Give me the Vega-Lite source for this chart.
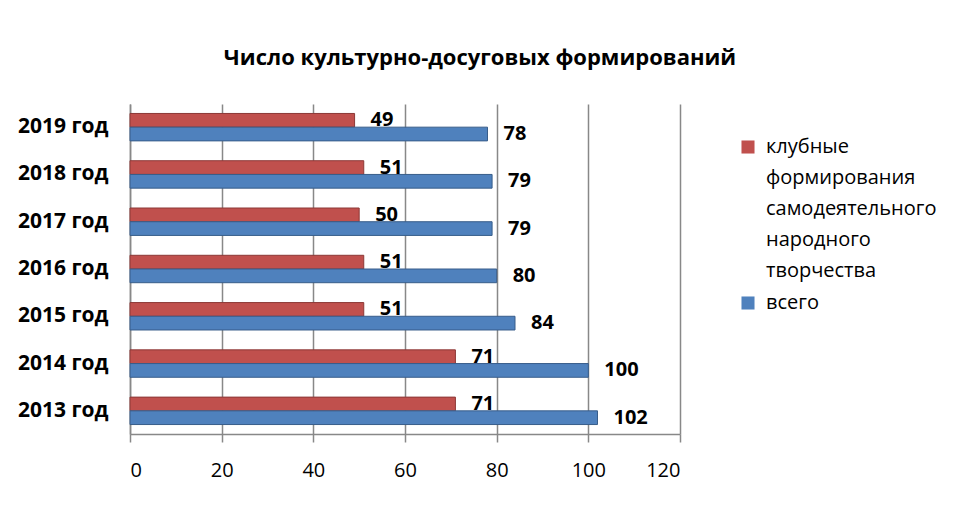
{
  "$schema": "https://vega.github.io/schema/vega-lite/v6.json",
  "autosize": {"type": "none"},
  "width": 550,
  "height": 330,
  "padding": {"left": 130, "top": 104, "right": 280, "bottom": 76},
  "background": "white",
  "title": {
    "text": "Число культурно-досуговых формирований",
    "font": "Open Sans",
    "fontSize": 22,
    "fontWeight": "bold",
    "color": "#000000",
    "anchor": "middle",
    "dx": 75,
    "offset": 34
  },
  "data": {
    "values": [
      {"year": "2019 год", "series": "клубные", "value": 49},
      {"year": "2019 год", "series": "всего", "value": 78},
      {"year": "2018 год", "series": "клубные", "value": 51},
      {"year": "2018 год", "series": "всего", "value": 79},
      {"year": "2017 год", "series": "клубные", "value": 50},
      {"year": "2017 год", "series": "всего", "value": 79},
      {"year": "2016 год", "series": "клубные", "value": 51},
      {"year": "2016 год", "series": "всего", "value": 80},
      {"year": "2015 год", "series": "клубные", "value": 51},
      {"year": "2015 год", "series": "всего", "value": 84},
      {"year": "2014 год", "series": "клубные", "value": 71},
      {"year": "2014 год", "series": "всего", "value": 100},
      {"year": "2013 год", "series": "клубные", "value": 71},
      {"year": "2013 год", "series": "всего", "value": 102}
    ]
  },
  "encoding": {
    "y": {
      "field": "year",
      "type": "nominal",
      "sort": "descending",
      "scale": {"paddingInner": 0.42, "paddingOuter": 0.2},
      "axis": {
        "title": null,
        "labelFont": "Open Sans",
        "labelFontSize": 21,
        "labelFontWeight": "bold",
        "labelColor": "#000000",
        "labelPadding": 22,
        "ticks": false,
        "domainColor": "#888888",
        "domainWidth": 1.5
      }
    },
    "yOffset": {"field": "series", "type": "nominal", "sort": ["клубные", "всего"]},
    "x": {
      "field": "value",
      "type": "quantitative",
      "scale": {"domain": [0, 120], "nice": false},
      "axis": {
        "title": null,
        "values": [0, 20, 40, 60, 80, 100, 120],
        "labelFont": "Open Sans",
        "labelFontSize": 20,
        "labelColor": "#000000",
        "labelPadding": 18,
        "tickColor": "#888888",
        "tickSize": 8,
        "tickWidth": 1.5,
        "domainColor": "#888888",
        "domainWidth": 1.5,
        "gridColor": "#888888",
        "gridWidth": 1.5
      }
    }
  },
  "layer": [
    {
      "mark": {"type": "bar", "strokeWidth": 1},
      "encoding": {
        "color": {
          "field": "series",
          "type": "nominal",
          "scale": {"domain": ["клубные", "всего"], "range": ["#C0504D", "#4F81BD"]},
          "legend": {
            "title": null,
            "orient": "none",
            "legendX": 608,
            "legendY": 33,
            "symbolType": "square",
            "symbolSize": 170,
            "symbolStrokeWidth": 0,
            "labelFont": "Open Sans",
            "labelFontSize": 20,
            "labelColor": "#000000",
            "labelOffset": 8,
            "labelLimit": 300,
            "rowPadding": 12,
            "labelExpr": "datum.label == 'всего' ? 'всего' : ['клубные', 'формирования', 'самодеятельного', 'народного', 'творчества']"
          }
        },
        "stroke": {
          "field": "series",
          "type": "nominal",
          "scale": {"domain": ["клубные", "всего"], "range": ["#8C3836", "#385D8A"]},
          "legend": null
        }
      }
    },
    {
      "mark": {"type": "text", "align": "left", "dx": 16, "font": "Open Sans", "fontSize": 20, "fontWeight": "bold", "color": "#000000"},
      "encoding": {"text": {"field": "value", "type": "quantitative"}}
    }
  ],
  "config": {
    "view": {"stroke": null},
    "style": {"guide-label": {"lineHeight": 31}}
  }
}
